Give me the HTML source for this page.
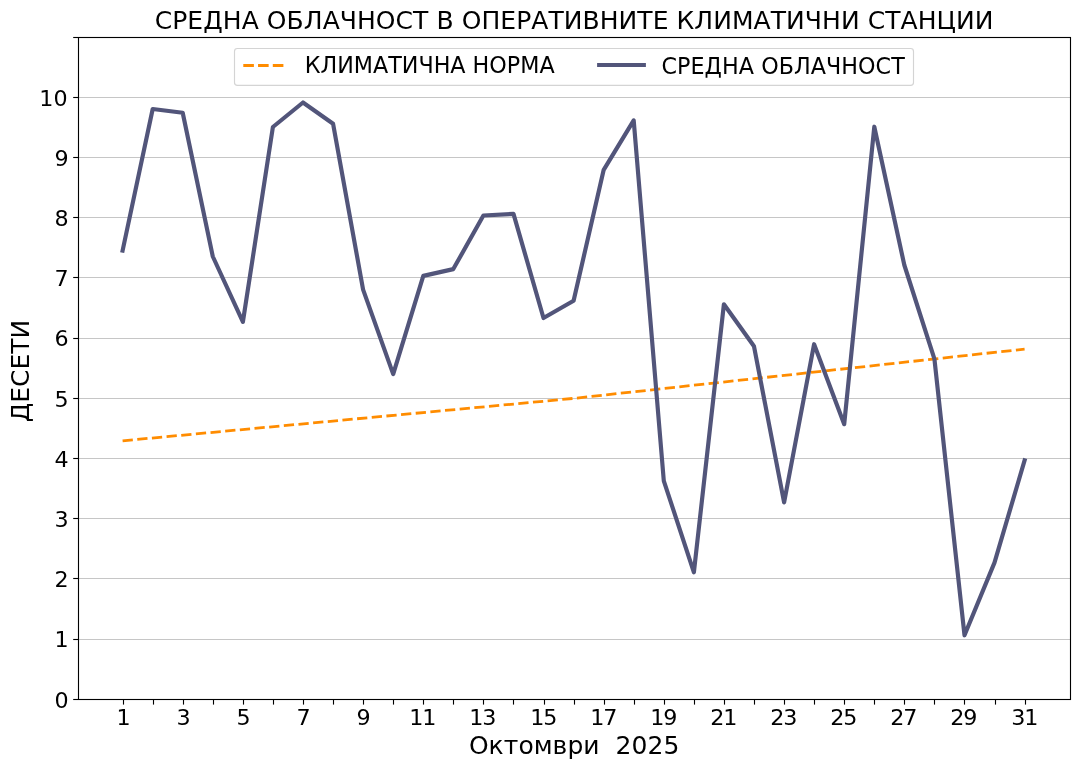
<!DOCTYPE html>
<html lang="bg"><head><meta charset="utf-8"><title>СРЕДНА ОБЛАЧНОСТ</title>
<style>html,body{margin:0;padding:0;background:#fff}body{width:1079px;height:768px;overflow:hidden}svg{display:block}text{font-family:"DejaVu Sans","Liberation Sans",sans-serif;fill:#000}</style></head><body>
<svg width="1079" height="768" viewBox="0 0 1079 768">
<rect width="1079" height="768" fill="#fff"/>
<g stroke="#c6c6c6" stroke-width="1" fill="none">
<line x1="78.5" y1="639.5" x2="1070.5" y2="639.5"/>
<line x1="78.5" y1="578.5" x2="1070.5" y2="578.5"/>
<line x1="78.5" y1="518.5" x2="1070.5" y2="518.5"/>
<line x1="78.5" y1="458.5" x2="1070.5" y2="458.5"/>
<line x1="78.5" y1="398.5" x2="1070.5" y2="398.5"/>
<line x1="78.5" y1="338.5" x2="1070.5" y2="338.5"/>
<line x1="78.5" y1="277.5" x2="1070.5" y2="277.5"/>
<line x1="78.5" y1="217.5" x2="1070.5" y2="217.5"/>
<line x1="78.5" y1="157.5" x2="1070.5" y2="157.5"/>
<line x1="78.5" y1="97.5" x2="1070.5" y2="97.5"/>
</g>
<polyline points="122.6,440.8 573.6,398.4 1024.6,349.1" fill="none" stroke="#ff8c00" stroke-width="2.78" stroke-dasharray="10.28 4.44" stroke-linecap="butt"/>
<polyline points="122.6,250.6 152.7,109.0 182.7,112.8 212.8,256.5 242.9,321.9 272.9,127.0 303.0,102.5 333.1,123.8 363.1,289.6 393.2,374.1 423.3,275.9 453.3,269.1 483.4,215.5 513.5,213.9 543.5,318.0 573.6,300.8 603.7,169.8 633.7,120.4 663.8,480.8 693.9,572.3 723.9,304.3 754.0,346.3 784.1,502.4 814.1,344.2 844.2,424.2 874.3,126.7 904.3,265.0 934.4,358.8 964.5,635.3 994.5,562.6 1024.6,460.4" fill="none" stroke="#52557a" stroke-width="4.17" stroke-linejoin="round" stroke-linecap="square"/>
<g stroke="#000" stroke-width="1.11" fill="none" stroke-linecap="square">
<rect x="78.50" y="37.50" width="992.00" height="662.00"/>
</g>
<g stroke="#000" stroke-width="1.11" fill="none">
<line x1="123.5" y1="699.5" x2="123.5" y2="704.6"/>
<line x1="153.5" y1="699.5" x2="153.5" y2="704.6"/>
<line x1="183.5" y1="699.5" x2="183.5" y2="704.6"/>
<line x1="213.5" y1="699.5" x2="213.5" y2="704.6"/>
<line x1="243.5" y1="699.5" x2="243.5" y2="704.6"/>
<line x1="273.5" y1="699.5" x2="273.5" y2="704.6"/>
<line x1="303.5" y1="699.5" x2="303.5" y2="704.6"/>
<line x1="333.5" y1="699.5" x2="333.5" y2="704.6"/>
<line x1="363.5" y1="699.5" x2="363.5" y2="704.6"/>
<line x1="393.5" y1="699.5" x2="393.5" y2="704.6"/>
<line x1="423.5" y1="699.5" x2="423.5" y2="704.6"/>
<line x1="453.5" y1="699.5" x2="453.5" y2="704.6"/>
<line x1="483.5" y1="699.5" x2="483.5" y2="704.6"/>
<line x1="513.5" y1="699.5" x2="513.5" y2="704.6"/>
<line x1="544.5" y1="699.5" x2="544.5" y2="704.6"/>
<line x1="574.5" y1="699.5" x2="574.5" y2="704.6"/>
<line x1="604.5" y1="699.5" x2="604.5" y2="704.6"/>
<line x1="634.5" y1="699.5" x2="634.5" y2="704.6"/>
<line x1="664.5" y1="699.5" x2="664.5" y2="704.6"/>
<line x1="694.5" y1="699.5" x2="694.5" y2="704.6"/>
<line x1="724.5" y1="699.5" x2="724.5" y2="704.6"/>
<line x1="754.5" y1="699.5" x2="754.5" y2="704.6"/>
<line x1="784.5" y1="699.5" x2="784.5" y2="704.6"/>
<line x1="814.5" y1="699.5" x2="814.5" y2="704.6"/>
<line x1="844.5" y1="699.5" x2="844.5" y2="704.6"/>
<line x1="874.5" y1="699.5" x2="874.5" y2="704.6"/>
<line x1="904.5" y1="699.5" x2="904.5" y2="704.6"/>
<line x1="934.5" y1="699.5" x2="934.5" y2="704.6"/>
<line x1="964.5" y1="699.5" x2="964.5" y2="704.6"/>
<line x1="995.5" y1="699.5" x2="995.5" y2="704.6"/>
<line x1="1025.5" y1="699.5" x2="1025.5" y2="704.6"/>
<line x1="78.5" y1="699.5" x2="73.2" y2="699.5"/>
<line x1="78.5" y1="639.5" x2="73.2" y2="639.5"/>
<line x1="78.5" y1="578.5" x2="73.2" y2="578.5"/>
<line x1="78.5" y1="518.5" x2="73.2" y2="518.5"/>
<line x1="78.5" y1="458.5" x2="73.2" y2="458.5"/>
<line x1="78.5" y1="398.5" x2="73.2" y2="398.5"/>
<line x1="78.5" y1="338.5" x2="73.2" y2="338.5"/>
<line x1="78.5" y1="277.5" x2="73.2" y2="277.5"/>
<line x1="78.5" y1="217.5" x2="73.2" y2="217.5"/>
<line x1="78.5" y1="157.5" x2="73.2" y2="157.5"/>
<line x1="78.5" y1="97.5" x2="73.2" y2="97.5"/>
<line x1="78.5" y1="37.5" x2="73.2" y2="37.5"/>
</g>
<g font-size="22.22px" text-anchor="middle">
<text transform="translate(123.5,725) scale(1,0.95)">1</text>
<text transform="translate(183.5,725) scale(1,0.95)">3</text>
<text transform="translate(243.5,725) scale(1,0.95)">5</text>
<text transform="translate(303.5,725) scale(1,0.95)">7</text>
<text transform="translate(363.5,725) scale(1,0.95)">9</text>
<text transform="translate(422.8,725) scale(1,0.95)" textLength="27.2" lengthAdjust="spacing">11</text>
<text transform="translate(482.8,725) scale(1,0.95)" textLength="27.2" lengthAdjust="spacing">13</text>
<text transform="translate(543.8,725) scale(1,0.95)" textLength="27.2" lengthAdjust="spacing">15</text>
<text transform="translate(603.8,725) scale(1,0.95)" textLength="27.2" lengthAdjust="spacing">17</text>
<text transform="translate(663.8,725) scale(1,0.95)" textLength="27.2" lengthAdjust="spacing">19</text>
<text transform="translate(723.8,725) scale(1,0.95)" textLength="27.2" lengthAdjust="spacing">21</text>
<text transform="translate(783.8,725) scale(1,0.95)" textLength="27.2" lengthAdjust="spacing">23</text>
<text transform="translate(843.8,725) scale(1,0.95)" textLength="27.2" lengthAdjust="spacing">25</text>
<text transform="translate(903.8,725) scale(1,0.95)" textLength="27.2" lengthAdjust="spacing">27</text>
<text transform="translate(963.8,725) scale(1,0.95)" textLength="27.2" lengthAdjust="spacing">29</text>
<text transform="translate(1024.8,725) scale(1,0.95)" textLength="27.2" lengthAdjust="spacing">31</text>
</g>
<g font-size="22.22px" text-anchor="end">
<text transform="translate(68.6,708) scale(1,0.95)">0</text>
<text transform="translate(68.6,647) scale(1,0.95)">1</text>
<text transform="translate(68.6,587) scale(1,0.95)">2</text>
<text transform="translate(68.6,527) scale(1,0.95)">3</text>
<text transform="translate(68.6,467) scale(1,0.95)">4</text>
<text transform="translate(68.6,407) scale(1,0.95)">5</text>
<text transform="translate(68.6,346) scale(1,0.95)">6</text>
<text transform="translate(68.6,286) scale(1,0.95)">7</text>
<text transform="translate(68.6,226) scale(1,0.95)">8</text>
<text transform="translate(68.6,166) scale(1,0.95)">9</text>
<text transform="translate(67.6,106) scale(1,0.95)">10</text>
</g>
<text x="154.7" y="28.8" font-size="25px" textLength="838.8" lengthAdjust="spacing">СРЕДНА ОБЛАЧНОСТ В ОПЕРАТИВНИТЕ КЛИМАТИЧНИ СТАНЦИИ</text>
<text x="468.9" y="754" font-size="25px" textLength="210.4" lengthAdjust="spacing" xml:space="preserve" style="white-space:pre">Октомври  2025</text>
<text transform="translate(29.0,371.0) rotate(-90)" font-size="25px" text-anchor="middle">ДЕСЕТИ</text>
<rect x="234.5" y="48.5" width="679" height="36.9" rx="2.9" ry="2.9" fill="#fff" fill-opacity="0.8" stroke="#d4d4d4" stroke-width="1.15"/>
<line x1="243.3" y1="65.5" x2="283.6" y2="65.5" stroke="#ff8c00" stroke-width="3" stroke-dasharray="10.6 4.15"/>
<text x="304.75" y="73" font-size="22.22px">КЛИМАТИЧНА НОРМА</text>
<line x1="597.1" y1="65" x2="645.9" y2="65" stroke="#52557a" stroke-width="4"/>
<text x="661.45" y="74" font-size="22.22px" textLength="243.3" lengthAdjust="spacing">СРЕДНА ОБЛАЧНОСТ</text>
</svg></body></html>
